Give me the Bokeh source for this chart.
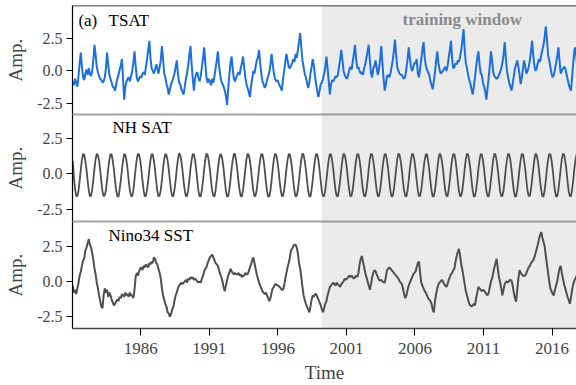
from bokeh.plotting import figure
from bokeh.layouts import column
from bokeh.models import BoxAnnotation, Span, Label, FixedTicker, Range1d, PrintfTickFormatter
from bokeh.embed import file_html
from bokeh.resources import INLINE

FONT = "Liberation Serif"

years = list(range(1981, 2018))

# monthly values, one row per year (Jan..Dec)
tsat = [
    -0.8, -1.1, -0.6, -0.9, -1.2, -0.4, 0.6, 1.4, 0.3, -0.5, -0.7, -0.2,
    0.1, -0.3, 0.2, -0.2, -0.4, 0.0, 0.8, 2.0, 1.2, 0.3, -0.1, -0.4,
    -0.6, -0.7, -0.9, -0.8, -0.5, 0.2, 1.4, 0.5, -0.3, -0.6, -0.9, -1.2,
    -1.3, -1.5, -1.0, -0.6, -0.3, 0.1, 0.4, 0.9, -0.6, -2.2, -1.2, -0.8,
    -0.6, -0.5, -0.8, -0.4, 0.0, 0.6, 1.5, 0.4, -0.5, -0.8, -0.6, -0.4,
    -0.5, -0.2, -0.1, -0.3, 0.3, 0.9, 1.6, 2.3, 1.0, 0.2, 0.0, -0.2,
    0.1, 0.5, 0.2, -0.2, 0.3, 0.8, 1.9, 0.9, -0.2, -0.5, -1.0, -1.3,
    -1.8, -1.4, -1.0, -0.8, -0.5, -0.2, 0.3, 0.8, -0.2, -0.9, -1.0, -1.4,
    -1.6, -1.8, -1.2, -0.6, -0.2, 0.4, 1.2, 1.9, 0.5, -0.6, -1.5, -0.6,
    -0.2, -0.1, -0.5, -0.8, -0.4, 0.3, 1.0, 1.8, 0.6, -0.5, -0.9, -0.6,
    -0.8, -1.1, -0.6, -0.9, -0.4, 0.2, 0.8, 1.5, 0.4, -0.3, -0.8, -1.0,
    -1.2, -1.5, -1.9, -2.6, -1.4, -0.3, 0.6, 1.1, 0.1, -0.6, -0.8, -0.5,
    -0.3, -0.1, -0.3, 0.2, 0.6, 1.1, 0.3, -0.5, -1.0, -1.3, -1.6, -2.0,
    -1.2, -0.6, 0.0, -0.2, 0.3, 0.8, 1.0, 1.6, 0.6, -0.2, -0.8, -1.0,
    -1.3, -1.1, -0.7, -0.4, -0.1, 0.5, 1.3, 0.5, -0.2, -0.6, -0.8, -0.7,
    -0.9, -1.1, -1.3, -1.5, -0.6, 0.0, 0.7, 1.3, 0.8, 0.3, 0.2, 0.4,
    0.6, 0.9, 0.7, 1.3, 1.0, 1.6, 2.2, 2.9, 1.8, 0.8, 0.3, -0.2,
    -0.5, -0.9, -1.3, -0.9, -0.2, 0.3, 0.9, 0.4, -0.4, -1.0, -1.6, -2.0,
    -1.5, -1.0, -0.9, -0.6, -0.2, 0.3, 1.1, 0.2, -0.8, -1.8, -1.0, -0.7,
    -0.8, -0.6, -0.4, -0.5, -0.3, 0.3, 0.9, 1.6, 0.8, 0.0, -0.3, -0.5,
    -0.6, -0.3, 0.1, 0.3, 0.1, 0.7, 1.3, 2.0, 0.9, 0.2, 0.3, 0.0,
    -0.2, -0.1, -0.3, 0.2, 0.5, 1.0, 1.5, 2.0, 0.8, -0.2, -0.5, 0.2,
    0.4, 0.8, 0.2, -0.3, 0.2, 0.9, 1.9, 0.6, -0.6, -1.5, -1.0, -0.4,
    -0.3, -0.5, -0.2, 0.3, 0.8, 1.5, 2.4, 1.2, 0.3, 0.0, -0.2, -0.3,
    -0.3, -0.5, -0.6, -0.4, 0.2, 0.9, 1.8, 1.0, 0.3, 0.0, 0.3, 0.6,
    0.6, 0.9, -0.2, -0.5, 0.2, 0.9, 1.6, 2.2, 1.0, 0.4, 0.1, -0.1,
    -0.3, -0.8, -1.1, -1.4, -0.8, -0.1, 0.8, 1.5, 0.6, 0.1, -0.2, -0.1,
    0.0, 0.2, 0.3, 0.0, 0.4, 1.0, 1.6, 2.3, 0.9, 0.2, 0.3, 0.6,
    0.5, 0.8, 0.7, 1.1, 1.6, 2.3, 3.2, 1.6, 0.6, 0.2, -0.3, -0.7,
    -1.0, -1.4, -1.8, -1.2, -0.5, 0.3, 1.0, 1.5, 0.5, -0.2, -0.3, -0.9,
    -1.2, -1.6, -2.2, -1.3, -0.5, 0.4, 1.5, 0.8, -0.1, -0.4, -0.5, -0.6,
    -0.5, -0.3, -0.1, 0.2, 0.6, 1.2, 2.2, 1.0, 0.0, -0.5, -0.9, -1.2,
    -1.5, -1.0, -0.4, 0.2, 0.5, 0.8, 0.3, -0.3, -1.0, -0.5, 0.2, 0.8,
    0.3, -0.2, 0.0, 0.3, 0.8, 1.5, 2.3, 1.2, 0.4, 0.0, 0.2, 0.6,
    0.9, 0.7, 1.2, 1.6, 2.0, 2.6, 3.4, 2.4, 1.2, 0.8, 0.3, -0.2,
    -0.5, -0.3, 0.1, 0.6, 1.1, 1.8, 0.8, -0.2, 0.0, 0.2, 0.3, 0.2,
    -0.2, -0.6, -1.0, -1.3, -1.5, -0.5, 0.6, 1.6, 1.8, 0.8, 0.2, -0.2,
]

nh_sat = [
    0.9, -0.3, -1.1, -1.55, -1.6, -1.2, -0.5, 0.3, 1.0, 1.4, 1.35, 0.9,
    0.3, -0.5, -1.2, -1.6, -1.55, -1.1, -0.4, 0.4, 1.05, 1.42, 1.3, 0.95,
    0.25, -0.55, -1.25, -1.6, -1.5, -1.15, -0.45, 0.35, 1.0, 1.38, 1.4, 0.9,
    0.3, -0.5, -1.2, -1.58, -1.62, -1.1, -0.5, 0.3, 0.95, 1.4, 1.33, 0.92,
    0.28, -0.52, -1.22, -1.55, -1.6, -1.18, -0.42, 0.36, 1.02, 1.43, 1.36, 0.97,
    0.32, -0.48, -1.18, -1.6, -1.57, -1.12, -0.46, 0.33, 0.98, 1.39, 1.38, 0.93,
    0.26, -0.53, -1.24, -1.62, -1.54, -1.16, -0.44, 0.38, 1.04, 1.41, 1.32, 0.94,
    0.31, -0.49, -1.21, -1.57, -1.6, -1.13, -0.48, 0.34, 1.0, 1.44, 1.35, 0.9,
    0.27, -0.54, -1.19, -1.59, -1.56, -1.17, -0.43, 0.37, 0.99, 1.4, 1.37, 0.96,
    0.3, -0.5, -1.23, -1.61, -1.58, -1.14, -0.47, 0.32, 1.03, 1.42, 1.34, 0.92,
    0.29, -0.51, -1.2, -1.56, -1.61, -1.15, -0.45, 0.35, 1.01, 1.38, 1.36, 0.95,
    0.33, -0.47, -1.22, -1.63, -1.57, -1.12, -0.44, 0.36, 0.97, 1.41, 1.39, 0.91,
    0.28, -0.52, -1.19, -1.58, -1.59, -1.16, -0.48, 0.33, 1.02, 1.43, 1.33, 0.93,
    0.3, -0.5, -1.21, -1.6, -1.55, -1.13, -0.42, 0.38, 1.0, 1.4, 1.37, 0.96,
    0.26, -0.55, -1.23, -1.61, -1.6, -1.17, -0.46, 0.34, 1.04, 1.42, 1.35, 0.92,
    0.31, -0.49, -1.18, -1.57, -1.58, -1.14, -0.43, 0.37, 0.99, 1.39, 1.38, 0.94,
    0.29, -0.51, -1.22, -1.62, -1.56, -1.15, -0.47, 0.32, 1.03, 1.44, 1.34, 0.9,
    0.32, -0.48, -1.2, -1.59, -1.61, -1.12, -0.45, 0.36, 1.01, 1.41, 1.36, 0.95,
    0.27, -0.53, -1.24, -1.6, -1.57, -1.16, -0.44, 0.35, 0.98, 1.4, 1.38, 0.93,
    0.3, -0.5, -1.21, -1.58, -1.59, -1.14, -0.46, 0.33, 1.02, 1.43, 1.33, 0.91,
    0.28, -0.52, -1.19, -1.61, -1.55, -1.13, -0.43, 0.37, 1.0, 1.39, 1.37, 0.96,
    0.31, -0.49, -1.22, -1.57, -1.6, -1.17, -0.48, 0.34, 1.04, 1.42, 1.35, 0.92,
    0.29, -0.51, -1.2, -1.6, -1.58, -1.15, -0.45, 0.36, 0.99, 1.4, 1.38, 0.94,
    0.33, -0.47, -1.23, -1.62, -1.56, -1.12, -0.44, 0.33, 1.03, 1.44, 1.34, 0.9,
    0.26, -0.54, -1.21, -1.58, -1.61, -1.16, -0.47, 0.37, 1.01, 1.41, 1.36, 0.95,
    0.3, -0.5, -1.18, -1.59, -1.57, -1.14, -0.42, 0.35, 0.98, 1.38, 1.39, 0.93,
    0.28, -0.52, -1.22, -1.61, -1.59, -1.17, -0.46, 0.32, 1.02, 1.43, 1.33, 0.91,
    0.32, -0.48, -1.2, -1.56, -1.6, -1.13, -0.45, 0.38, 1.0, 1.4, 1.37, 0.96,
    0.27, -0.53, -1.24, -1.6, -1.55, -1.15, -0.43, 0.34, 1.04, 1.42, 1.35, 0.92,
    0.31, -0.49, -1.19, -1.62, -1.58, -1.16, -0.48, 0.36, 0.99, 1.39, 1.38, 0.94,
    0.29, -0.51, -1.21, -1.57, -1.61, -1.12, -0.44, 0.33, 1.03, 1.44, 1.34, 0.9,
    0.3, -0.5, -1.23, -1.59, -1.56, -1.17, -0.47, 0.37, 1.01, 1.41, 1.36, 0.95,
    0.28, -0.52, -1.2, -1.61, -1.6, -1.14, -0.45, 0.35, 0.98, 1.4, 1.39, 0.93,
    0.32, -0.48, -1.22, -1.58, -1.57, -1.13, -0.42, 0.32, 1.02, 1.43, 1.33, 0.91,
    0.27, -0.54, -1.18, -1.6, -1.59, -1.16, -0.46, 0.38, 1.0, 1.39, 1.37, 0.96,
    0.31, -0.49, -1.21, -1.62, -1.58, -1.15, -0.44, 0.34, 1.04, 1.42, 1.35, 0.92,
    0.29, -0.51, -1.23, -1.57, -1.6, -1.12, -0.47, 0.36, 0.99, 1.4, 1.38, 0.94,
]

nino34 = [
    -0.3, -0.8, -0.6, -0.9, -0.5, -0.1, 0.4, 0.7, 1.1, 1.5, 1.6, 2.2,
    2.4, 2.7, 3.0, 2.6, 2.4, 2.0, 1.5, 0.9, 0.5, -0.1, -0.5, -1.0,
    -1.4, -1.8, -1.9, -1.0, -0.5, -0.8, -0.6, -1.1, -0.8, -1.0, -1.3, -1.5,
    -1.7, -1.6, -1.4, -1.3, -1.4, -1.1, -1.2, -0.9, -1.0, -1.1, -0.8, -1.0,
    -0.9, -1.1, -0.8, -1.0, -1.0, -1.2, -0.6, 0.3, 0.6, 0.4, 0.7, 0.9,
    1.0, 0.8, 1.1, 1.0, 1.2, 1.1, 1.0, 1.3, 1.2, 1.4, 1.3, 1.7,
    1.6, 1.3, 1.2, 0.9, 0.6, 0.2, -0.5, -1.0, -1.3, -1.6, -1.8, -2.2,
    -2.3, -2.5, -2.3, -2.0, -1.8, -1.4, -1.0, -0.8, -0.5, -0.3, -0.2, -0.1,
    -0.2, -0.1, 0.0, 0.1, -0.1, 0.2, 0.1, 0.3, 0.2, 0.3, 0.1, 0.2,
    0.1, 0.0, -0.1, 0.0, -0.1, 0.2, 0.4, 0.7, 0.9, 1.0, 1.3, 1.5,
    1.7, 1.8, 1.9, 1.7, 1.5, 1.3, 1.2, 1.1, 0.8, 0.5, 0.3, 0.0,
    -0.4, -0.7, -0.3, 0.1, 0.4, 0.6, 0.9, 0.7, 0.6, 0.5, 0.6, 0.5,
    0.5, 0.6, 0.4, 0.5, 0.3, 0.4, 0.4, 0.6, 0.5, 0.5, 0.7, 1.0,
    1.2, 1.5, 1.7, 1.3, 0.9, 0.5, 0.2, -0.1, -0.3, -0.5, -0.7, -0.8,
    -0.9, -0.8, -1.0, -1.2, -1.4, -1.2, -0.8, -0.5, -0.4, -0.2, -0.2, -0.3,
    -0.3, -0.4, -0.5, -0.6, -0.6, -0.3, 0.2, 0.6, 1.0, 1.3, 1.7, 2.2,
    2.3, 2.5, 2.6, 2.6, 2.4, 2.0, 1.3, 0.9, 0.3, -0.4, -1.0, -1.3,
    -1.6, -1.8, -2.0, -2.2, -1.8, -1.3, -1.0, -1.1, -0.9, -0.9, -1.1, -1.3,
    -1.5, -1.7, -2.0, -2.2, -1.9, -1.6, -1.4, -1.0, -0.7, -0.4, -0.3, -0.2,
    -0.1, -0.2, -0.3, -0.1, -0.2, -0.3, -0.4, -0.2, -0.1, 0.0, 0.2, 0.1,
    0.2, 0.3, 0.4, 0.3, 0.4, 0.3, 0.2, 0.3, 0.4, 0.3, 0.6, 1.2,
    1.6, 1.8, 1.4, 1.0, 0.6, 0.3, 0.0, -0.3, -0.6, -0.2, 0.3, 0.6,
    0.8, 0.7, 0.5, 0.3, 0.1, 0.05, 0.1, 0.0, -0.05, -0.1, 0.3, 0.8,
    0.9, 1.0, 0.9, 0.8, 0.7, 0.6, 0.5, 0.4, 0.3, 0.2, 0.0, -0.1,
    -0.2, -0.5, -0.9, -1.2, -1.0, -0.6, -0.3, -0.1, 0.1, 0.3, 0.5, 0.6,
    0.7, 1.0, 1.3, 1.4, 0.6, -0.1, -0.3, -0.5, -0.7, -0.8, -1.0, -1.2,
    -1.3, -1.4, -1.6, -2.0, -2.2, -1.4, -0.9, -0.5, -0.2, -0.1, 0.0, 0.1,
    0.0, -0.2, -0.3, -0.4, -0.2, 0.1, 0.3, 0.5, 0.6, 0.8, 0.9, 1.4,
    1.8, 2.1, 2.3, 1.8, 1.2, 0.8, 0.3, -0.2, -0.7, -1.0, -1.3, -1.6,
    -1.7, -1.8, -1.7, -1.6, -1.7, -1.2, -0.8, -0.4, -0.5, -0.6, -0.7, -0.6,
    -0.65, -0.8, -0.9, -1.0, -0.8, -0.4, 0.0, 0.2, 0.6, 1.0, 1.3, 1.6,
    0.9, 0.3, -0.05, -0.5, -1.0, -0.6, -0.2, -0.05, 0.0, -0.1, 0.05, 0.1,
    0.05, -0.3, -0.8, -1.2, -1.45, -0.6, 0.2, 0.8, 0.6, 0.5, 0.4, 0.4,
    0.4, 0.6, 0.8, 1.0, 1.1, 1.3, 1.4, 1.5, 1.7, 2.0, 2.3, 2.6,
    3.0, 3.3, 3.5, 3.1, 2.8, 2.5, 1.8, 1.2, 0.6, 0.0, -0.5, -0.7,
    -0.9, -1.0, -0.6, -0.3, 0.0, 0.5, 0.9, 1.1, 0.6, 0.2, -0.2, -0.5,
    -0.8, -1.1, -1.3, -1.6, -1.2, -0.6, -0.2, 0.05, 0.2, 0.4, 0.5, 0.6,
]

training_start = 1999.2
x_ticks = [1981, 1986, 1991, 1996, 2001, 2006, 2011, 2016]
x_tick_labels = ["", "1986", "1991", "1996", "2001", "2006", "2011", "2016"]
y_ticks = [-2.5, 0.0, 2.5]

t = [y + (m + 0.5) / 12.0 for y in years for m in range(12)]

x_range = Range1d(1981.02, 2017.78)
SEP = "#444444"


def make_panel(height, y0, y1, top, bottom, show_x):
    p = figure(width=576, height=height, x_range=x_range, y_range=Range1d(y0, y1),
               output_backend="svg", toolbar_location=None,
               x_axis_location="below" if show_x else None,
               min_border_left=72, min_border_right=0,
               min_border_top=top, min_border_bottom=bottom)
    p.outline_line_color = None
    p.grid.visible = False
    p.background_fill_color = "white"
    p.border_fill_color = "white"
    p.add_layout(BoxAnnotation(left=training_start, fill_color="#ebebeb", fill_alpha=1.0,
                               line_color=None, level="underlay"))
    ax = p.yaxis[0]
    ax.ticker = FixedTicker(ticks=y_ticks)
    ax.formatter = PrintfTickFormatter(format="%.1f")
    ax.axis_label = "Amp."
    ax.axis_label_text_font = FONT
    ax.axis_label_text_font_size = "19px"
    ax.axis_label_text_font_style = "normal"
    ax.axis_label_standoff = 8
    ax.major_label_text_font = FONT
    ax.major_label_text_font_size = "16px"
    ax.major_label_standoff = 4
    ax.major_tick_out = 6
    ax.major_tick_in = 0
    ax.minor_tick_out = 0
    ax.minor_tick_in = 0
    ax.axis_line_color = "black"
    ax.axis_line_width = 1.2
    ax.major_tick_line_color = "black"
    if show_x:
        xa = p.xaxis[0]
        xa.ticker = FixedTicker(ticks=x_ticks)
        xa.major_label_overrides = {k: v for k, v in zip(x_ticks, x_tick_labels)}
        xa.axis_label = "Time"
        xa.axis_label_text_font = FONT
        xa.axis_label_text_font_size = "19px"
        xa.axis_label_text_font_style = "normal"
        xa.axis_label_standoff = 5
        xa.major_label_text_font = FONT
        xa.major_label_text_font_size = "17px"
        xa.major_label_standoff = 7
        xa.major_tick_out = 7
        xa.major_tick_in = 0
        xa.minor_tick_out = 0
        xa.minor_tick_in = 0
        xa.axis_line_color = SEP
        xa.axis_line_width = 1.5
        xa.major_tick_line_color = "black"
    return p


p1 = make_panel(114, -3.33, 5.0, 5, 0, False)
p2 = make_panel(107, -3.38, 4.2, 0, 0, False)
p3 = make_panel(164, -3.35, 4.25, 0, 57, True)

p1.add_layout(Span(location=5.0, dimension="width", line_color="black", line_width=1.6))
p1.add_layout(Span(location=-3.33, dimension="width", line_color=SEP, line_width=1.4))
p2.add_layout(Span(location=4.2, dimension="width", line_color=SEP, line_width=1.4))
p2.add_layout(Span(location=-3.38, dimension="width", line_color=SEP, line_width=1.4))
p3.add_layout(Span(location=4.25, dimension="width", line_color=SEP, line_width=1.4))

p1.line(t, tsat, line_color="#1b6fde", line_width=2)
p2.line(t, nh_sat, line_color="#4f4f4f", line_width=1.8)
p3.line(t, nino34, line_color="#4f4f4f", line_width=2)

p1.add_layout(Label(x=1981.45, y=3.82, text="(a)", text_font=FONT, text_font_size="17px",
                    text_baseline="middle", text_color="black"))
p1.add_layout(Label(x=1983.65, y=3.82, text="TSAT", text_font=FONT, text_font_size="17px",
                    text_baseline="middle", text_color="black"))
p1.add_layout(Label(x=2005.09, y=3.9, text="training window", text_font=FONT,
                    text_font_size="17px", text_font_style="bold", text_baseline="middle",
                    text_color="#8a8a8a"))
p2.add_layout(Label(x=1986.09, y=3.3, text="NH SAT", text_font=FONT, text_font_size="17px",
                    text_align="center", text_baseline="middle", text_color="black"))
p3.add_layout(Label(x=1986.73, y=3.24, text="Nino34 SST", text_font=FONT, text_font_size="17px",
                    text_align="center", text_baseline="middle", text_color="black"))

layout = column(p1, p2, p3, spacing=0)
open("out.html", "w").write(file_html(layout, INLINE))
